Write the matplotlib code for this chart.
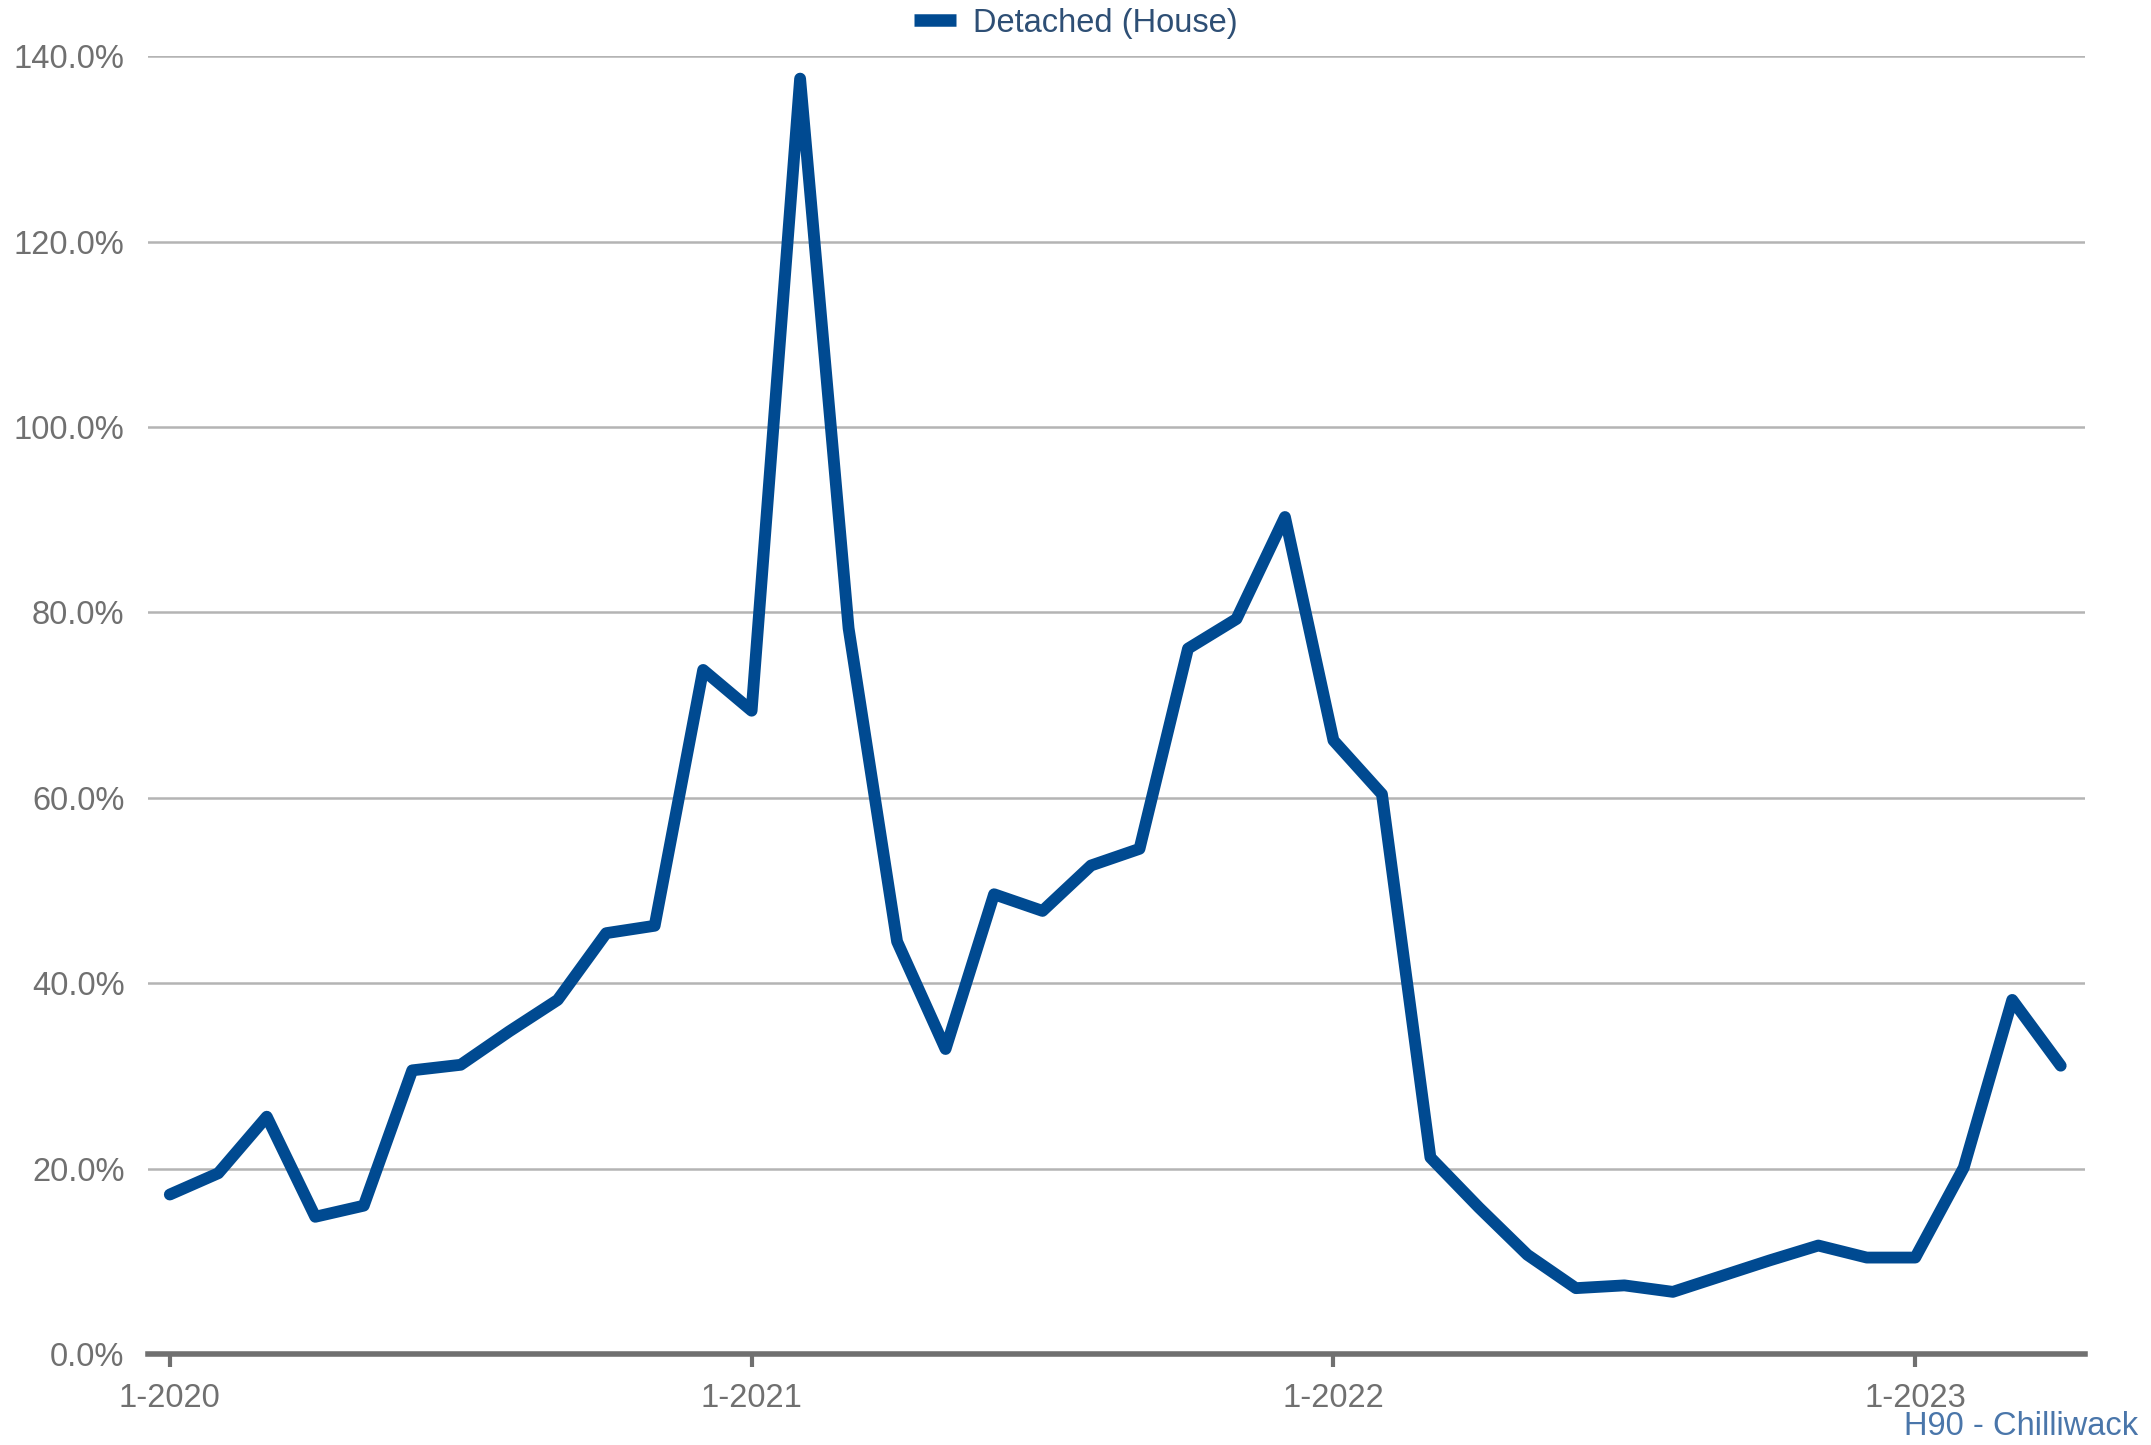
#script to redraw the detached house chart for Chilliwack
import numpy as np
import matplotlib.pyplot as plt
import matplotlib as mpl

# monthly values, 1-2020 .. 4-2023
months = np.arange(40)
values = [17.2, 19.5, 25.6, 14.8, 16.0, 30.6, 31.2, 34.8, 38.2, 45.4,
          46.2, 73.8, 69.4, 137.6, 78.3, 44.5, 32.9, 49.6, 47.8, 52.7,
          54.5, 76.1, 79.3, 90.3, 66.2, 60.4, 21.2, 15.8, 10.7, 7.1,
          7.4, 6.7, 8.4, 10.1, 11.7, 10.4, 10.4, 20.1, 38.2, 31.1]
tick_pos = [0, 12, 24, 36]
tick_labels = ['1-2020', '1-2021', '1-2022', '1-2023']
y_ticks = [0, 20, 40, 60, 80, 100, 120, 140]

fig_font = 23.5
mpl.rc('font', family='Liberation Sans', size=fig_font)

line_col = '#004a91'
grey = '#707070'

figure = plt.figure(figsize=(21.51, 14.45), dpi=100)
ax = figure.add_axes([0.0688, 0.063, 0.9005, 0.898])

ax.plot(months, values, color=line_col, linewidth=8.5, solid_joinstyle='round',
        solid_capstyle='round', label='Detached (House)', zorder=3)

ax.set_xlim(-0.45, 39.5)
ax.set_ylim(0, 140)
ax.set_yticks(y_ticks)
ax.set_yticklabels(['%.1f%%' % v for v in y_ticks])
ax.set_xticks(tick_pos)
ax.set_xticklabels(tick_labels)

ax.grid(axis='y', color='#b4b4b4', linewidth=1.8)
ax.set_axisbelow(True)
for side in ['top', 'right', 'left']:
    ax.spines[side].set_visible(False)
ax.spines['bottom'].set_color(grey)
ax.spines['bottom'].set_linewidth(4)
ax.spines['bottom'].set_zorder(4)

ax.tick_params(axis='y', length=0, pad=17, colors=grey, labelsize=fig_font)
ax.tick_params(axis='x', length=9, width=3, pad=12, colors=grey, labelsize=fig_font)

handles, labels = ax.get_legend_handles_labels()
leg = figure.legend(handles, labels, loc='center', bbox_to_anchor=(0.5, 0.984),
                    frameon=False, handlelength=1.3, handletextpad=0.5,
                    fontsize=fig_font, borderaxespad=0, borderpad=0)
for t in leg.get_texts():
    t.set_color('#2e4f75')
for h in leg.get_lines():
    h.set_linewidth(9)
    h.set_solid_capstyle('butt')

figure.text(0.994, 0.002, 'H90 - Chilliwack', ha='right', va='bottom',
            color='#4a76aa', fontsize=fig_font)

plt.savefig('out.png', dpi=100)
plt.close()
